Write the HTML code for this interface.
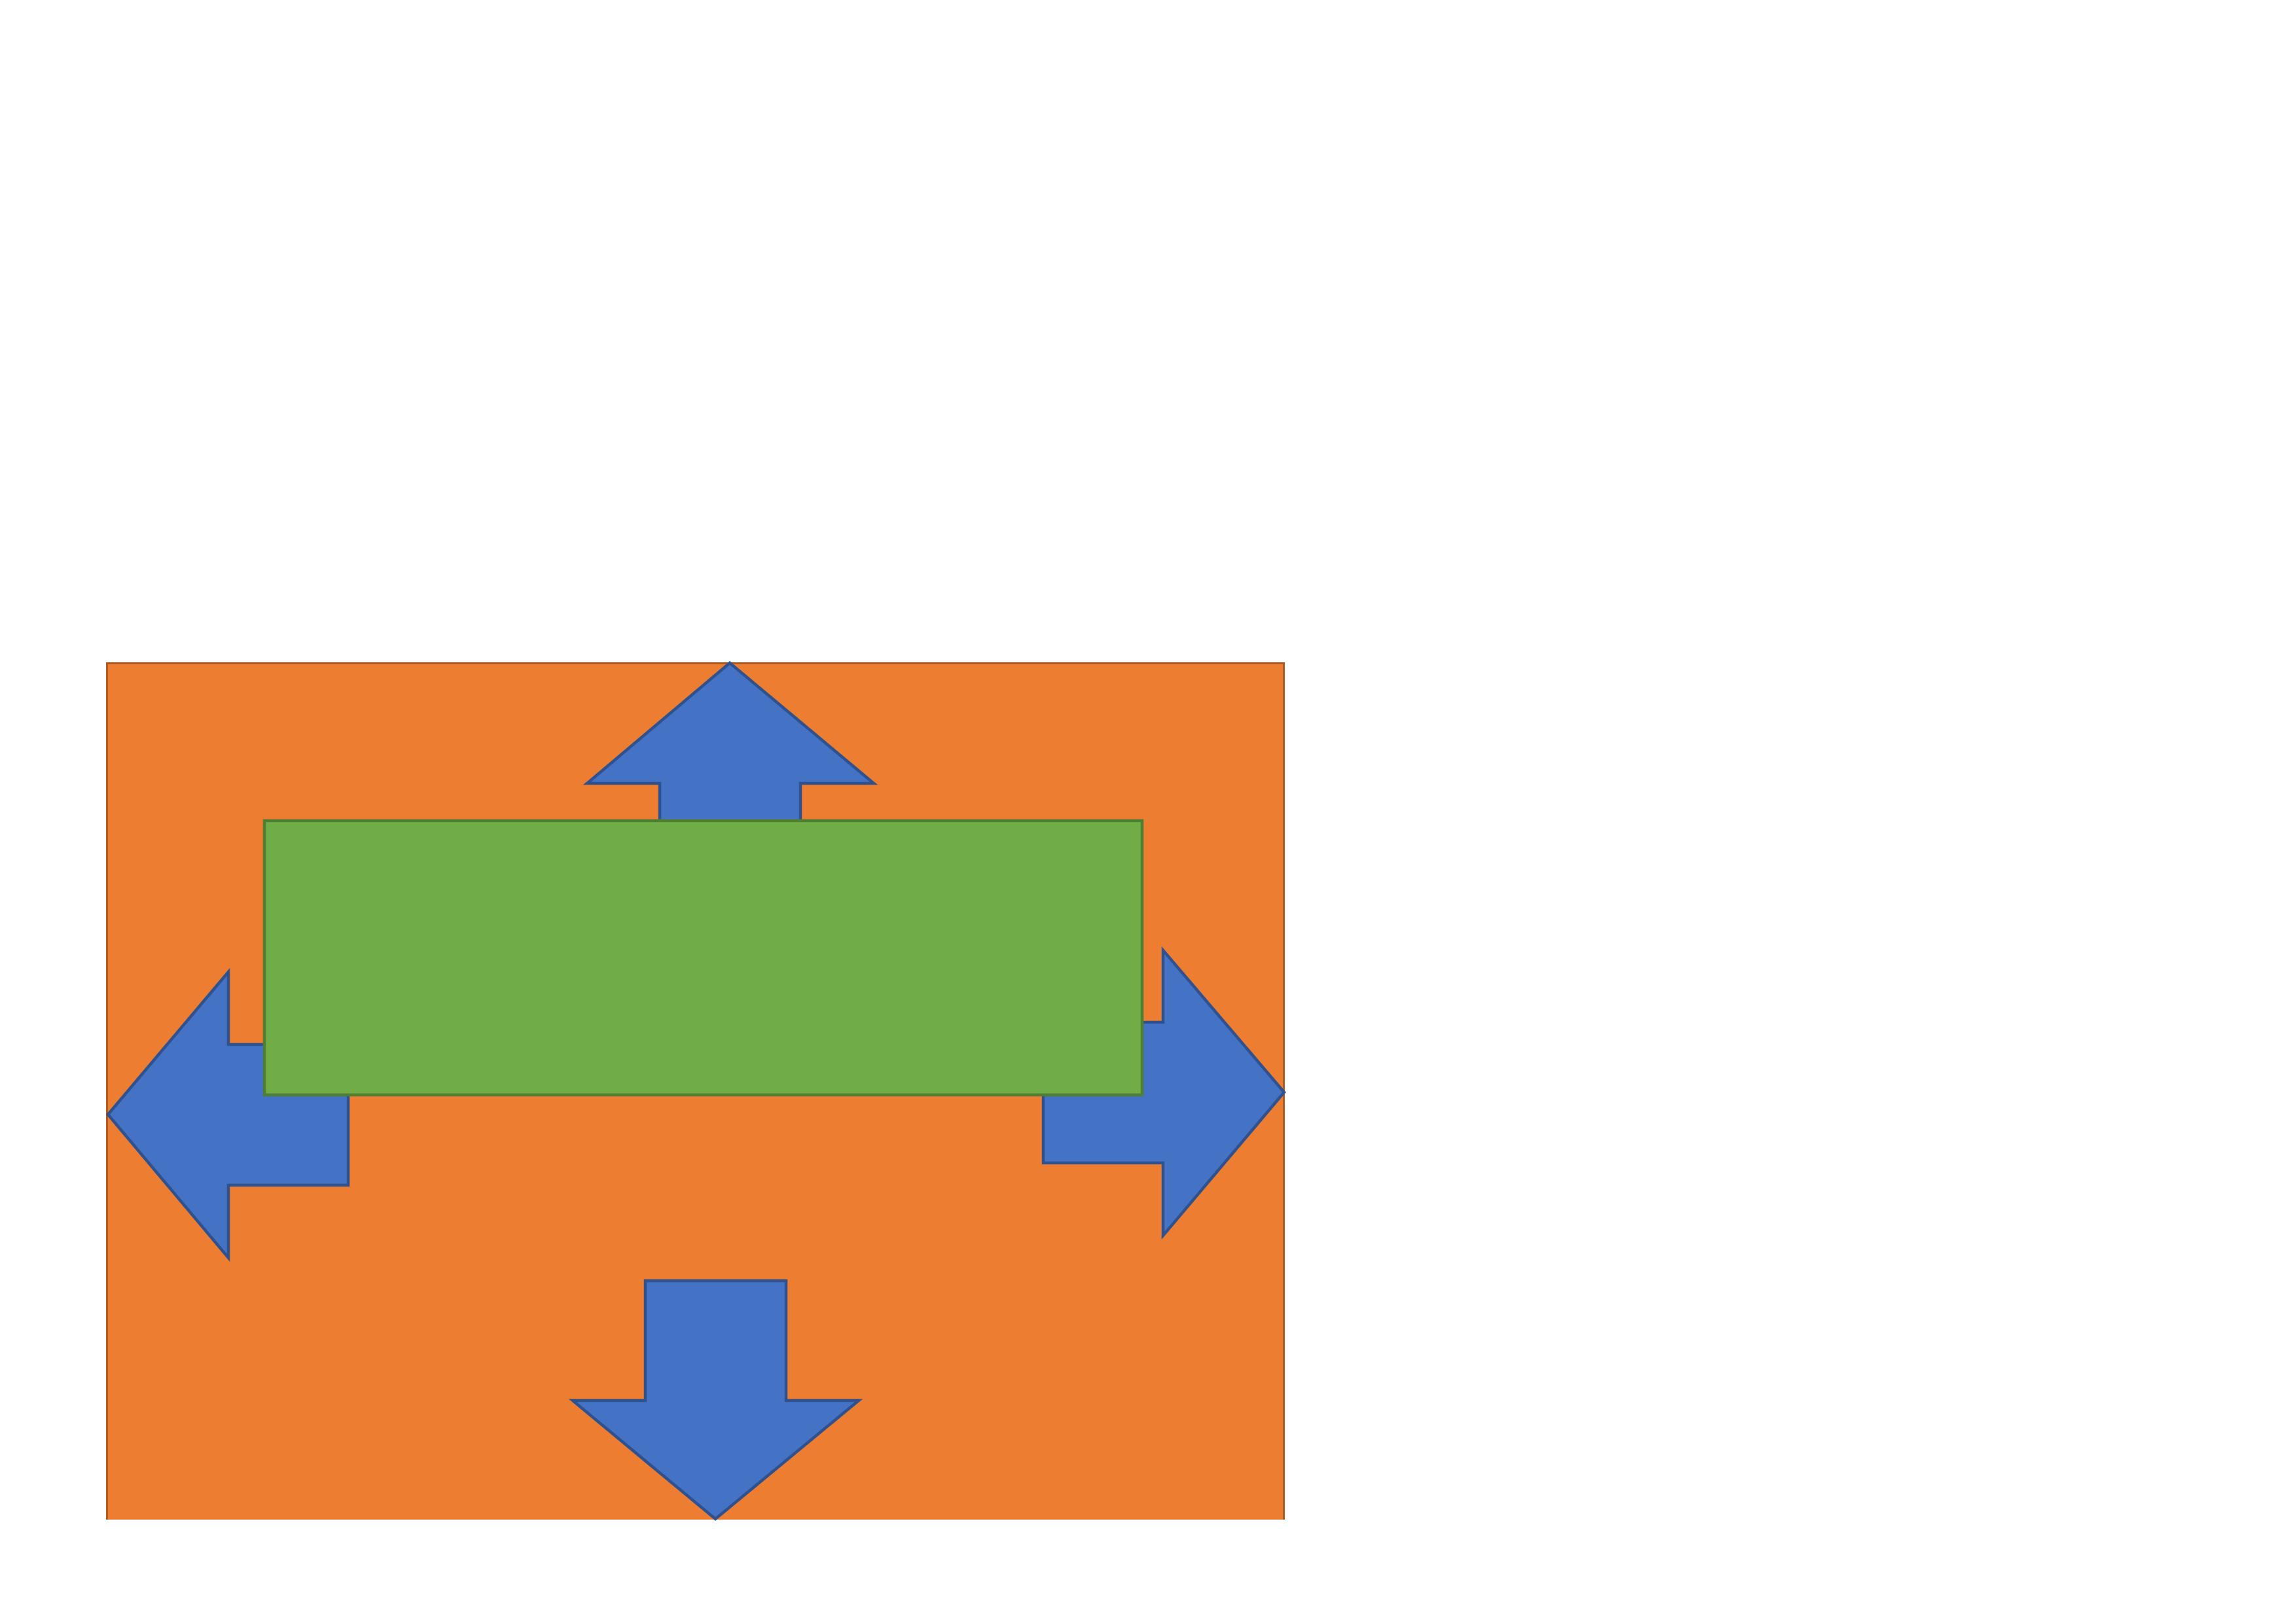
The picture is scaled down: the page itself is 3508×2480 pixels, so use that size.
<!DOCTYPE html>
<html>
<head>
<meta charset="utf-8">
<style>
  html, body { margin: 0; padding: 0; background: #ffffff; }
  body { width: 3508px; height: 2480px; overflow: hidden; }
  svg { display: block; }
</style>
</head>
<body>
<svg width="3508" height="2480" viewBox="0 0 3508 2480" xmlns="http://www.w3.org/2000/svg">
  <rect x="0" y="0" width="3508" height="2480" fill="#ffffff"/>
  <!-- orange background rectangle (no bottom border) -->
  <rect x="163" y="1013" width="1799" height="1309" fill="#ED7D31"/>
  <path d="M163.5,2322 V1013.5 H1961.5 V2322" fill="none" stroke="#AE5A21" stroke-width="3"/>
  <!-- up arrow -->
  <polygon points="1115,1013 1335,1197 1223,1197 1223,1300 1008,1300 1008,1197 897,1197"
           fill="#4472C4" stroke="#2F528F" stroke-width="4.5" stroke-linejoin="miter"/>
  <!-- left arrow -->
  <polygon points="165,1703 349,1485 349,1596 532,1596 532,1811 349,1811 349,1922"
           fill="#4472C4" stroke="#2F528F" stroke-width="4.5" stroke-linejoin="miter"/>
  <!-- right arrow -->
  <polygon points="1962,1669 1777,1452 1777,1562 1594,1562 1594,1777 1777,1777 1777,1888"
           fill="#4472C4" stroke="#2F528F" stroke-width="4.5" stroke-linejoin="miter"/>
  <!-- down arrow -->
  <polygon points="986,1957 1201,1957 1201,2140 1312,2140 1093,2321 875,2140 986,2140"
           fill="#4472C4" stroke="#2F528F" stroke-width="4.5" stroke-linejoin="miter"/>
  <!-- green rectangle on top -->
  <rect x="404" y="1254" width="1341" height="419" fill="#70AD47" stroke="#507E32" stroke-width="4.5"/>
</svg>
</body>
</html>
